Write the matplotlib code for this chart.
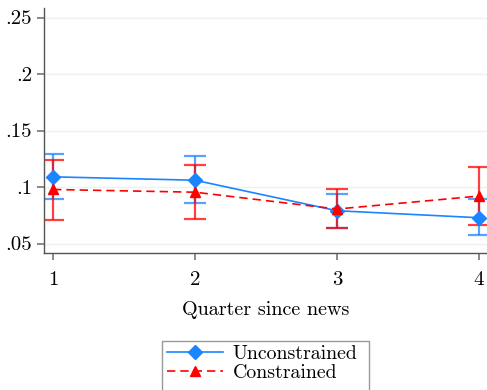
import matplotlib.pyplot as plt
from matplotlib.patches import Rectangle
from matplotlib.lines import Line2D

plt.rcParams['font.family'] = ['cmr10', 'DejaVu Serif']
plt.rcParams['axes.formatter.use_mathtext'] = True

quarters = [1, 2, 3, 4]
unc = [0.109, 0.106, 0.0790, 0.0728]
unc_lo = [0.089, 0.0854, 0.0637, 0.0571]
unc_hi = [0.1288, 0.1273, 0.0936, 0.0896]
con = [0.0978, 0.0954, 0.0805, 0.0920]
con_lo = [0.0712, 0.0718, 0.0635, 0.0668]
con_hi = [0.1243, 0.1193, 0.0978, 0.1175]
yticks = [0.05, 0.1, 0.15, 0.2, 0.25]
ytick_labels = ['.05', '.1', '.15', '.2', '.25']

blue = '#1a85ff'
red = '#ff0000'

fig = plt.figure(figsize=(4.87, 3.90), dpi=100)
ax = fig.add_axes([44/487, 1-253/390, 1-44/487, 245/390])

for y in yticks:
    ax.axhline(y, color='#eaf2f3', lw=1.0, zorder=0)

ax.errorbar(quarters, unc,
            yerr=[[u - l for u, l in zip(unc, unc_lo)], [h - u for u, h in zip(unc, unc_hi)]],
            fmt='none', ecolor=blue, alpha=0.75, elinewidth=1.6, capsize=8, capthick=1.6, zorder=2)
ax.errorbar(quarters, con,
            yerr=[[c - l for c, l in zip(con, con_lo)], [h - c for c, h in zip(con, con_hi)]],
            fmt='none', ecolor=red, alpha=0.75, elinewidth=1.6, capsize=8, capthick=1.6, zorder=2)
ax.plot(quarters, unc, color=blue, lw=1.2, marker='D', ms=7, zorder=3)
ax.plot(quarters, con, color=red, lw=1.2, ls=(0, (5, 3)), marker='^', ms=7, zorder=4)

ax.set_xlim(1 - 9/142, 4 + 8/142)
ax.set_ylim(0.05 - 9.5/1130, 0.25 + 9.5/1130)
ax.set_xticks(quarters)
ax.set_xticklabels([str(q) for q in quarters])
ax.set_yticks(yticks)
ax.set_yticklabels(ytick_labels)
ax.tick_params(axis='both', labelsize=15, color='#777777', length=5, width=1.2)
ax.tick_params(axis='x', pad=8)
ax.set_xlabel('Quarter since news', fontsize=14.5, labelpad=9)

for s in ['top', 'right']:
    ax.spines[s].set_visible(False)
for s in ['left', 'bottom']:
    ax.spines[s].set_color('#555555')
    ax.spines[s].set_linewidth(1.0)

fig.add_artist(Rectangle((162/487, -0.05), 207/487, 0.05 + 1 - 341/390,
                         transform=fig.transFigure, fill=False, ec='#999999', lw=1.0))
handles = [Line2D([], [], color=blue, lw=1.2, marker='D', ms=7),
           Line2D([], [], color=red, lw=1.2, ls=(0, (5, 3)), marker='^', ms=7)]
fig.legend(handles, ['Unconstrained', 'Constrained'], loc='upper left',
           bbox_to_anchor=(153/487, 1 - 331/390), frameon=False, fontsize=14.3,
           handlelength=2.8, labelspacing=0.05, borderpad=0.2, handletextpad=0.5)

fig.savefig('out.png', dpi=100)
